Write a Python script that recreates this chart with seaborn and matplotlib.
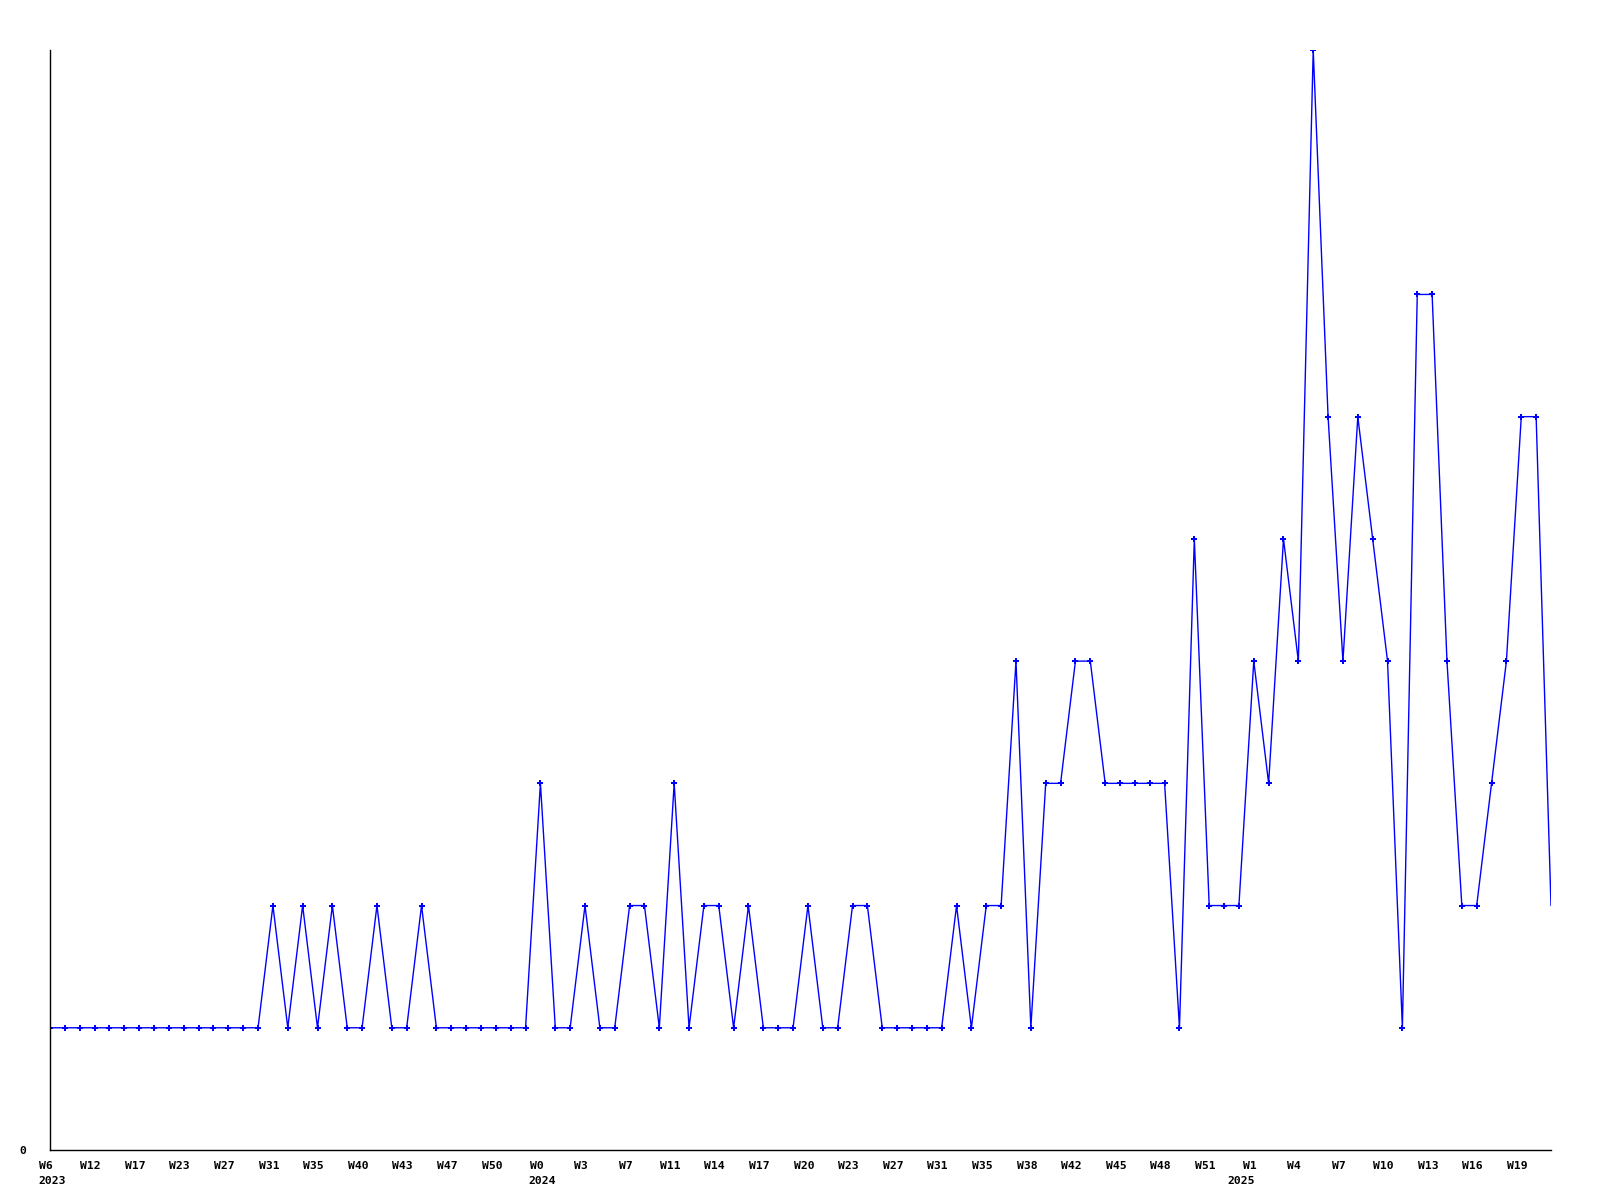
import matplotlib
matplotlib.use("Agg")
import matplotlib.pyplot as plt
import matplotlib.transforms as mtransforms
import seaborn as sns
import pandas as pd
import numpy as np

# ---- data ----
values = [
    1, 1, 1, 1, 1, 1, 1, 1, 1, 1, 1, 1, 1, 1, 1,
    2, 1, 2, 1, 2, 1, 1, 2, 1, 1, 2, 1, 1, 1, 1, 1, 1, 1,
    3, 1, 1, 2, 1, 1, 2, 2, 1, 3, 1, 2, 2, 1, 2, 1, 1, 1, 2, 1, 1, 2, 2,
    1, 1, 1, 1, 1, 2, 1, 2, 2,
    4, 1, 3, 3, 4, 4, 3, 3, 3, 3, 3, 1, 5, 2, 2, 2, 4, 3, 5, 4,
    9, 6, 4, 6, 5, 4, 1, 7, 7, 4, 2, 2, 3, 4, 6, 6, 2,
]
week_labels = [
    "W6", "W12", "W17", "W23", "W27", "W31", "W35", "W40", "W43", "W47", "W50",
    "W0", "W3", "W7", "W11", "W14", "W17", "W20", "W23", "W27", "W31", "W35",
    "W38", "W42", "W45", "W48", "W51", "W1", "W4", "W7", "W10", "W13", "W16", "W19",
]
year_labels = ["2023", "2024", "2025"]
year_label_index = [0, 33, 80]
label_step = 3

df = pd.DataFrame({"idx": np.arange(len(values)), "value": values})

sns.set_style("white")
plt.rcParams["font.family"] = ["DejaVu Sans Mono", "DejaVu Sans"]
plt.rcParams["text.color"] = "black"
plt.rcParams["xtick.color"] = "black"
plt.rcParams["ytick.color"] = "black"

fig = plt.figure(figsize=(16, 12), dpi=100)
ax = fig.add_axes([50 / 1600, 1 - 1150 / 1200, (1551 - 50) / 1600, (1150 - 50) / 1200])

sns.lineplot(
    data=df, x="idx", y="value", ax=ax, color="#0000ff", linewidth=1.0,
    marker="P", markersize=5.0, markeredgewidth=0, markevery=list(range(len(values) - 1)),
)

ax.set_xlim(0, len(values) - 1)
ax.set_ylim(0, max(values))

for s in ["top", "right"]:
    ax.spines[s].set_visible(False)
for s in ["left", "bottom"]:
    ax.spines[s].set_color("black")
    ax.spines[s].set_linewidth(1.0)

fs = 8.2
tick_pos = [i * label_step for i in range(len(week_labels))]
ax.set_xticks(tick_pos)
ax.set_xticklabels(week_labels, fontsize=fs, fontweight="bold", color="black")
ax.set_yticks([0])
ax.set_yticklabels(["0"], fontsize=fs, fontweight="bold", color="black")
ax.tick_params(axis="x", length=0, pad=8)
ax.tick_params(axis="y", length=0, pad=17)
ax.set_xlabel("")
ax.set_ylabel("")
ax.grid(False)

shift = mtransforms.ScaledTranslation(-4 / 100, 0, fig.dpi_scale_trans)
for lab in ax.get_xticklabels():
    lab.set_transform(lab.get_transform() + shift)

for lab, i in zip(year_labels, year_label_index):
    ax.annotate(lab, xy=(i, 0), xycoords=("data", "axes fraction"),
                xytext=(1.5, -18.5), textcoords="offset points",
                ha="center", va="top", fontsize=fs, fontweight="bold", color="black")

fig.savefig("out.png", dpi=100, facecolor="white")
